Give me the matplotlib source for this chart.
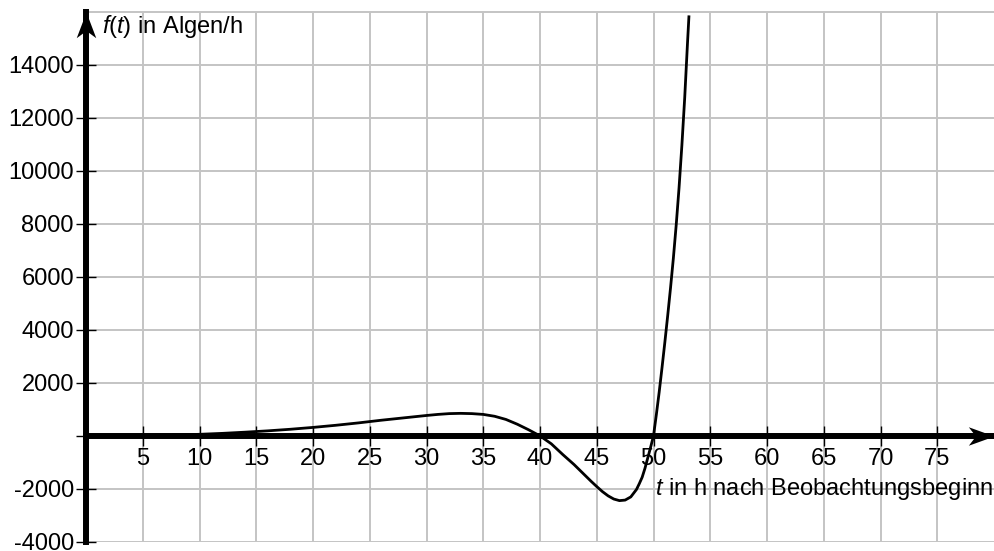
import matplotlib
matplotlib.use("Agg")
import matplotlib.pyplot as plt
from matplotlib.path import Path

plt.rcParams["font.family"] = "Liberation Sans"
plt.rcParams["mathtext.fontset"] = "custom"
plt.rcParams["mathtext.rm"] = "Liberation Sans"
plt.rcParams["mathtext.it"] = "Liberation Sans:italic"

# Zeit t in h und Wachstumsrate f(t) in Algen/h
t_werte = [0, 2, 4, 6, 8, 10, 12, 14, 16, 18, 20, 22, 24, 26, 28, 30,
           31, 32, 33, 34, 35, 36, 37, 38, 39, 40, 41, 42, 43, 44, 44.5, 45,
           45.5, 46, 46.5, 47, 47.5, 48, 48.5, 48.75, 49, 49.25, 49.5, 49.75,
           50, 50.25, 50.5, 50.75, 51, 51.25, 51.5, 51.75, 52, 52.25, 52.5,
           52.75, 53, 53.12]
f_werte = [0, 2, 8, 18, 35, 60, 95, 140, 190, 250, 320, 400, 490, 590, 680, 770,
           810, 840, 850, 840, 810, 740, 620, 440, 230, 0, -300, -700, -1080, -1500, -1710, -1910,
           -2100, -2260, -2380, -2440, -2420, -2300, -2020, -1800, -1560, -1220, -820, -420,
           0, 800, 1650, 2570, 3530, 4530, 5580, 6700, 7950, 9350, 10950,
           12750, 14850, 15800]

x_ticks = list(range(5, 80, 5))
y_ticks = list(range(-4000, 16000, 2000))
y_labels = [str(v) if v != 0 else "" for v in y_ticks]

fig = plt.figure(figsize=(9.94, 5.51), dpi=100)
ax = fig.add_axes([86 / 994, 9 / 551, 908 / 994, 530.5 / 551])

ax.set_xlim(0, 80)
ax.set_ylim(-4000, 16000)
ax.set_xticks(x_ticks)
ax.set_yticks(y_ticks)
ax.set_yticklabels(y_labels)

ax.grid(True, color="#c4c4c4", lw=1.4)
ax.set_axisbelow(True)

# Achsen durch den Ursprung, oberer Rand als Gitterlinie
ax.spines["right"].set_visible(False)
ax.spines["top"].set_color("#c4c4c4")
ax.spines["top"].set_linewidth(1.4)
ax.spines["left"].set_linewidth(4.3)
ax.spines["bottom"].set_position(("data", 0))
ax.spines["bottom"].set_linewidth(4.3)
ax.spines["left"].set_zorder(3)
ax.spines["bottom"].set_zorder(3)

ax.tick_params(direction="inout", length=14.4, width=1.0, labelsize=17, pad=1.5,
               colors="black")

ax.plot(t_werte, f_werte, color="black", lw=2.0, zorder=4)

# Pfeilspitzen an den Achsen
kopf_y = Path([(0, 0), (-0.38, -1), (0, -0.72), (0.38, -1), (0, 0)],
              [Path.MOVETO, Path.LINETO, Path.LINETO, Path.LINETO, Path.CLOSEPOLY])
kopf_x = Path([(0, 0), (-1, 0.36), (-0.72, 0), (-1, -0.36), (0, 0)],
              [Path.MOVETO, Path.LINETO, Path.LINETO, Path.LINETO, Path.CLOSEPOLY])
ax.plot([0], [16000], marker=kopf_y, markersize=37, color="black", clip_on=False,
        zorder=5, markeredgewidth=0)
ax.plot([80], [0], marker=kopf_x, markersize=37, color="black", clip_on=False,
        zorder=5, markeredgewidth=0)

ax.text(1.4, 15180, r"$f(t)$ in Algen/h", fontsize=17, ha="left", va="baseline")
ax.text(79.9, -2235, r"$t$ in h nach Beobachtungsbeginn", fontsize=17,
        ha="right", va="baseline")

fig.savefig("out.png", dpi=100)
